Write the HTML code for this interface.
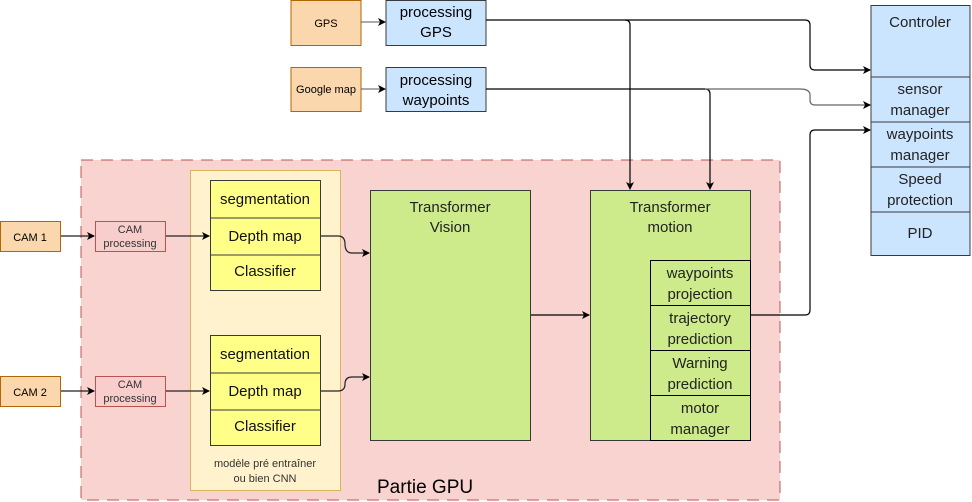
<!DOCTYPE html>
<html><head><meta charset="utf-8"><style>
html,body{margin:0;padding:0;background:#fff;}
svg{display:block;font-family:"Liberation Sans",Arial,sans-serif;}
</style></head><body>
<svg width="972" height="502" viewBox="0 0 972 502" xmlns="http://www.w3.org/2000/svg">
<defs><marker id="a" markerWidth="8" markerHeight="8" refX="7" refY="4" orient="auto" markerUnits="userSpaceOnUse"><path d="M0,0 L8,4 L0,8 L2,4 z" fill="#000"/></marker></defs>
<rect x="81" y="160" width="699" height="340" fill="#f8d3d0" stroke="#b85450" stroke-dasharray="12,8"/>
<text x="377" y="493" font-size="19" fill="#000">Partie GPU</text>
<rect x="291" y="0.5" width="70" height="45" fill="#fad7ac" stroke="#b46504"/>
<text x="326" y="27" font-size="11" text-anchor="middle">GPS</text>
<rect x="291" y="67.5" width="70" height="44" fill="#fad7ac" stroke="#b46504"/>
<text x="326" y="93" font-size="11" text-anchor="middle">Google map</text>
<rect x="386" y="0.5" width="100" height="45" fill="#cce5ff" stroke="#36393d"/>
<text x="436" y="17" font-size="15" text-anchor="middle">processing</text>
<text x="436" y="37" font-size="15" text-anchor="middle">GPS</text>
<rect x="386" y="67.5" width="100" height="44" fill="#cce5ff" stroke="#36393d"/>
<text x="436" y="85" font-size="15" text-anchor="middle">processing</text>
<text x="436" y="105" font-size="15" text-anchor="middle">waypoints</text>
<line x1="361" y1="22" x2="385" y2="22" stroke="#555" marker-end="url(#a)"/>
<line x1="361" y1="89" x2="385" y2="89" stroke="#555" marker-end="url(#a)"/>
<rect x="871" y="5.5" width="99" height="250" fill="#cce5ff" stroke="#36393d"/>
<line x1="871" y1="77" x2="970" y2="77" stroke="#36393d"/>
<line x1="871" y1="122" x2="970" y2="122" stroke="#36393d"/>
<line x1="871" y1="167" x2="970" y2="167" stroke="#36393d"/>
<line x1="871" y1="212" x2="970" y2="212" stroke="#36393d"/>
<g font-size="15" text-anchor="middle" fill="#222">
<text x="920" y="27">Controler</text>
<text x="920" y="94">sensor</text><text x="920" y="115">manager</text>
<text x="920" y="139">waypoints</text><text x="920" y="160">manager</text>
<text x="920" y="184">Speed</text><text x="920" y="205">protection</text>
<text x="920" y="238">PID</text>
</g>
<g fill="none" stroke="#000" stroke-width="1.2">
<path d="M486,20 H625 Q630,20 630,25 V189" marker-end="url(#a)"/>
<path d="M625,20 H805 Q810,20 810,25 V65 Q810,70 815,70 H870" marker-end="url(#a)"/>
<path d="M486,89 H705 Q710,89 710,94 V189" marker-end="url(#a)"/>
<path d="M705,89 H800 Q810,89 810,95 V100 Q810,105 815,105 H870" stroke="#666" marker-end="url(#a)"/>
<path d="M750,315 H805 Q810,315 810,310 V135 Q810,130 815,130 H870" marker-end="url(#a)"/>
<path d="M530,315 H589" marker-end="url(#a)"/>
</g>
<rect x="0.5" y="221.5" width="60" height="30" fill="#fad7ac" stroke="#b46504"/>
<text x="30" y="241" font-size="11" text-anchor="middle">CAM 1</text>
<rect x="0.5" y="376.5" width="60" height="30" fill="#fad7ac" stroke="#b46504"/>
<text x="30" y="396" font-size="11" text-anchor="middle">CAM 2</text>
<rect x="95.5" y="221.5" width="70" height="30" fill="#f8cecc" stroke="#b85450"/>
<text x="130" y="233" font-size="11" text-anchor="middle" fill="#333">CAM</text>
<text x="130" y="247" font-size="11" text-anchor="middle" fill="#333">processing</text>
<rect x="95.5" y="376.5" width="70" height="30" fill="#f8cecc" stroke="#b85450"/>
<text x="130" y="388" font-size="11" text-anchor="middle" fill="#333">CAM</text>
<text x="130" y="402" font-size="11" text-anchor="middle" fill="#333">processing</text>
<rect x="190.5" y="170.5" width="150" height="320" fill="#fff2cc" stroke="#d6b656"/>
<text x="265" y="467" font-size="11" text-anchor="middle" fill="#333">modèle pré entraîner</text>
<text x="265" y="482" font-size="11" text-anchor="middle" fill="#333">ou bien CNN</text>
<g fill="none" stroke="#222" stroke-width="1.2">
<path d="M61,236 H94" marker-end="url(#a)"/>
<path d="M61,391 H94" marker-end="url(#a)"/>
<path d="M166,236 H209" marker-end="url(#a)"/>
<path d="M166,391 H209" marker-end="url(#a)"/>
<path d="M320,236 H338 Q345,236 345,244 Q345,253 352,253 H369" marker-end="url(#a)"/>
<path d="M320,391 H338 Q345,391 345,384 Q345,377 352,377 H369" marker-end="url(#a)"/>
</g>
<g font-size="15" text-anchor="middle" fill="#111">
<rect x="210.5" y="180.5" width="110" height="110" fill="#ffff88" stroke="#36393d"/>
<line x1="210.5" y1="218" x2="320.5" y2="218" stroke="#36393d"/>
<line x1="210.5" y1="255" x2="320.5" y2="255" stroke="#36393d"/>
<text x="265" y="204">segmentation</text><text x="265" y="241">Depth map</text><text x="265" y="276">Classifier</text>
<rect x="210.5" y="335.5" width="110" height="110" fill="#ffff88" stroke="#36393d"/>
<line x1="210.5" y1="373" x2="320.5" y2="373" stroke="#36393d"/>
<line x1="210.5" y1="410" x2="320.5" y2="410" stroke="#36393d"/>
<text x="265" y="359">segmentation</text><text x="265" y="396">Depth map</text><text x="265" y="431">Classifier</text>
</g>
<rect x="370.5" y="190.5" width="160" height="250" fill="#cdeb8b" stroke="#36393d"/>
<text x="450" y="212" font-size="15" text-anchor="middle" fill="#222">Transformer</text>
<text x="450" y="232" font-size="15" text-anchor="middle" fill="#222">Vision</text>
<rect x="590.5" y="190.5" width="160" height="250" fill="#cdeb8b" stroke="#36393d"/>
<text x="670" y="212" font-size="15" text-anchor="middle" fill="#222">Transformer</text>
<text x="670" y="232" font-size="15" text-anchor="middle" fill="#222">motion</text>
<g fill="#cdeb8b" stroke="#000">
<rect x="650.5" y="260.5" width="100" height="45"/>
<rect x="650.5" y="305.5" width="100" height="45"/>
<rect x="650.5" y="350.5" width="100" height="45"/>
<rect x="650.5" y="395.5" width="100" height="45"/>
</g>
<g font-size="15" text-anchor="middle" fill="#222">
<text x="700" y="278">waypoints</text><text x="700" y="299">projection</text>
<text x="700" y="323">trajectory</text><text x="700" y="344">prediction</text>
<text x="700" y="368">Warning</text><text x="700" y="389">prediction</text>
<text x="700" y="413">motor</text><text x="700" y="434">manager</text>
</g>
</svg>
</body></html>
